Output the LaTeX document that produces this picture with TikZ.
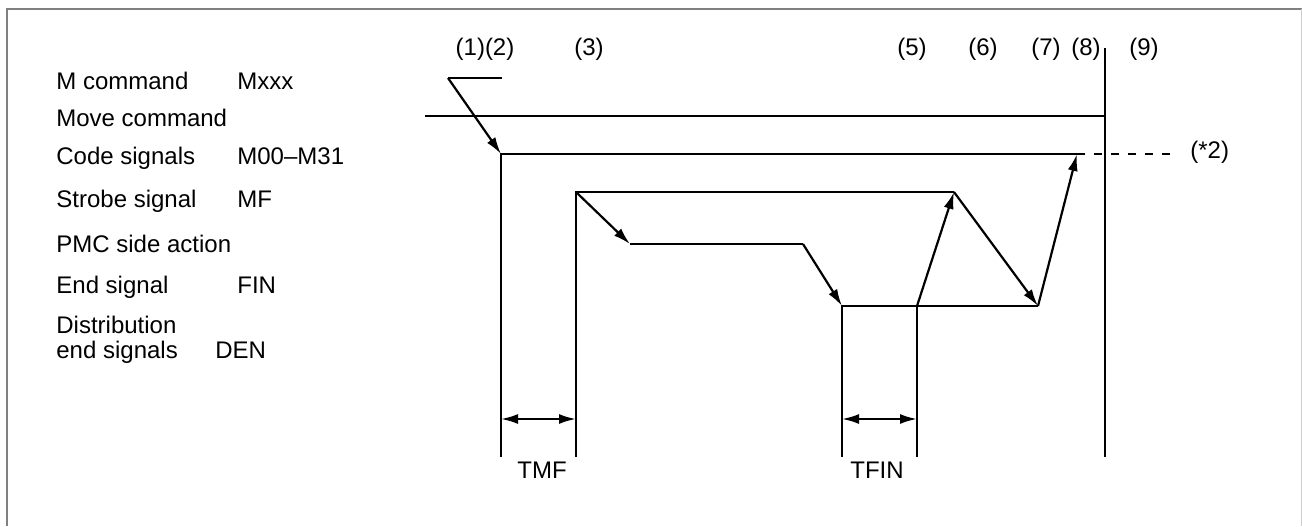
\documentclass[tikz,border=0pt]{standalone}
\usepackage{fontspec}
\setmainfont{Liberation Sans}
\usepackage{tikz}
\usetikzlibrary{arrows.meta,positioning}
\tikzset{
  siglabel/.style={
    anchor=base west,
    inner sep=0pt,
    font=\fontsize{12}{14}\selectfont
  },
  steplabel/.style={
    anchor=base,
    inner sep=0pt,
    font=\fontsize{12}{14}\selectfont
  },
  wave/.style={
    draw=black,
    line width=1.1pt
  },
  flowarrow/.style={
    draw=black,
    line width=1.1pt,
    -{Latex[length=8.5pt,width=5pt]}
  },
  dimarrow/.style={
    draw=black,
    line width=1.1pt,
    {Latex[length=8.5pt,width=5pt]}-{Latex[length=8.5pt,width=5pt]}
  },
  holdline/.style={
    draw=black,
    line width=1.1pt,
    dash pattern=on 4pt off 4.5pt
  },
  framebox/.style={
    draw=black!50,
    line width=1pt
  }
}

\begin{document}
\begin{tikzpicture}[x=0.5pt,y=-0.5pt]
  \useasboundingbox (0,0) rectangle (1302,526);
  % frame
  \draw[framebox] (7,526) -- (7,9) -- (1302,9);
  \draw[draw=black!20,line width=0.5pt] (1301,9) -- (1301,526);

  % signal names
  \node[siglabel] (mcmd) at (56,89) {M command};
  \node[siglabel] (mxxx) at (237,89) {Mxxx};
  \node[siglabel] (move) at (56,126) {Move command};
  \node[siglabel] (code) at (56,164) {Code signals};
  \node[siglabel] (mcode) at (237,164) {M00--M31};
  \node[siglabel] (strobe) at (56,207) {Strobe signal};
  \node[siglabel] (mf) at (237,207) {MF};
  \node[siglabel] (pmc) at (56,252) {PMC side action};
  \node[siglabel] (endsig) at (56,293) {End signal};
  \node[siglabel] (fin) at (237,293) {FIN};
  \node[siglabel] (distr) at (56,333) {Distribution};
  \node[siglabel] (distrend) at (56,358) {end signals};
  \node[siglabel] (den) at (215,358) {DEN};

  % step numbers
  \foreach \lbl/\xpos [count=\i] in {{(1)(2)}/485,{(3)}/589,{(5)}/912,{(6)}/983,{(7)}/1046,{(8)}/1086,{(9)}/1144}
    {\node[steplabel] (step\i) at (\xpos,55) {\lbl};}

  % waveform corners
  \coordinate (mcEnd) at (502,78);
  \coordinate (mcStart) at (448,78);
  \coordinate (mvStart) at (425,116);
  \coordinate (mvEnd) at (1105,116);
  \coordinate (endTop) at (1105,48);
  \coordinate (endBot) at (1105,457);
  \coordinate (csRise) at (501,154);
  \coordinate (csBot) at (501,457);
  \coordinate (csEnd) at (1077,154);
  \coordinate (csDash) at (1177,154);
  \coordinate (mfRise) at (576,192);
  \coordinate (mfBot) at (576,457);
  \coordinate (mfFall) at (954,192);
  \coordinate (pmcStart) at (630,244);
  \coordinate (pmcEnd) at (803,244);
  \coordinate (finRise) at (842,306);
  \coordinate (finBot) at (842,457);
  \coordinate (finMid) at (917,306);
  \coordinate (finMidBot) at (917,457);
  \coordinate (finFall) at (1038,306);

  % signals
  \draw[wave] (mcEnd) -- (mcStart);
  \draw[wave] (mvStart) -- (mvEnd);
  \draw[wave] (endTop) -- (endBot);
  \draw[wave] (csBot) -- (csRise) -- (csEnd);
  \draw[holdline] (csEnd) -- (csDash);
  \node[siglabel] (hold) at (1190,158) {(*2)};
  \draw[wave] (mfBot) -- (mfRise) -- (mfFall);
  \draw[wave] (pmcStart) -- (pmcEnd);
  \draw[wave] (finBot) -- (finRise) -- (finFall);
  \draw[wave] (finMidBot) -- (finMid);

  % handshake arrows
  \draw[flowarrow] (mcStart) -- (csRise);
  \draw[flowarrow] (mfRise) -- (pmcStart);
  \draw[flowarrow] (pmcEnd) -- (finRise);
  \draw[flowarrow] (finMid) -- (mfFall);
  \draw[flowarrow] (mfFall) -- (finFall);
  \draw[flowarrow] (finFall) -- (csEnd);

  % timings
  \coordinate (tmfL) at (501,419);
  \coordinate (tmfR) at (576,419);
  \coordinate (tfinL) at (842,419);
  \coordinate (tfinR) at (917,419);
  \draw[dimarrow] (tmfL) -- (tmfR);
  \draw[dimarrow] (tfinL) -- (tfinR);
  \node[steplabel] (tmf) at (542,478) {TMF};
  \node[steplabel] (tfin) at (877,478) {TFIN};
\end{tikzpicture}
\end{document}
